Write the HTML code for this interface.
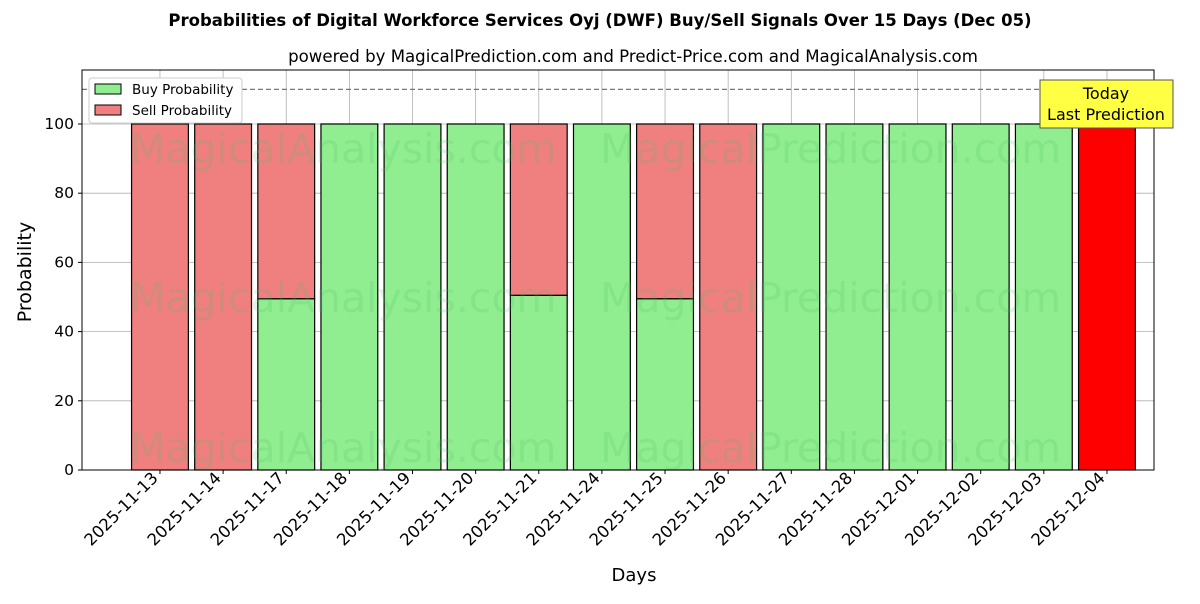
<!DOCTYPE html>
<html><head><meta charset="utf-8"><style>
body{margin:0;background:#fff;font-family:"DejaVu Sans","Liberation Sans",sans-serif;}
svg text{font-family:"DejaVu Sans","Liberation Sans",sans-serif;}
</style></head><body>
<svg id="chart" width="1200" height="600" xmlns="http://www.w3.org/2000/svg">
<text x="600" y="26" text-anchor="middle" font-size="16.5" font-weight="bold">Probabilities of Digital Workforce Services Oyj (DWF) Buy/Sell Signals Over 15 Days (Dec 05)</text>
<text x="633" y="62" text-anchor="middle" font-size="16.6">powered by MagicalPrediction.com and Predict-Price.com and MagicalAnalysis.com</text>
<g id="grid"></g>
<g id="bars"></g>
<g id="wm" fill="#4cc060" opacity="0.18" font-size="41">
<text x="130" y="163">MagicalAnalysis.com</text>
<text x="600" y="163">MagicalPrediction.com</text>
<text x="130" y="312">MagicalAnalysis.com</text>
<text x="600" y="312">MagicalPrediction.com</text>
<text x="130" y="462">MagicalAnalysis.com</text>
<text x="600" y="462">MagicalPrediction.com</text>
</g>
<line x1="82" x2="1154" y1="89.4" y2="89.4" stroke="#777" stroke-dasharray="5,3" stroke-width="1.2"/>
<rect x="82" y="70" width="1072" height="400" fill="none" stroke="#000" stroke-width="1"/>
<g id="axes"></g>
<g>
<rect x="89" y="78" width="153" height="45" fill="#fff" stroke="#ccc" rx="3"/>
<rect x="95" y="84" width="26" height="10" fill="#90ee90" stroke="#000"/>
<text x="132" y="94" font-size="13.5">Buy Probability</text>
<rect x="95" y="105" width="26" height="10" fill="#f08080" stroke="#000"/>
<text x="132" y="115" font-size="13.5">Sell Probability</text>
</g>
<g>
<rect x="1040" y="80" width="133" height="48" fill="#ffff44" stroke="#555"/>
<text x="1106" y="99" text-anchor="middle" font-size="16">Today</text>
<text x="1106" y="120" text-anchor="middle" font-size="16">Last Prediction</text>
</g>
<text x="634" y="581" text-anchor="middle" font-size="18">Days</text>
<text transform="translate(31,272) rotate(-90)" text-anchor="middle" font-size="19">Probability</text>
</svg>
<script>
const categories=["2025-11-13","2025-11-14","2025-11-17","2025-11-18","2025-11-19","2025-11-20","2025-11-21","2025-11-24","2025-11-25","2025-11-26","2025-11-27","2025-11-28","2025-12-01","2025-12-02","2025-12-03","2025-12-04"];
const buyValues=[0,0,49.5,100,100,100,50.5,100,49.5,0,100,100,100,100,100,0];
const sellValues=[100,100,50.5,0,0,0,49.5,0,50.5,100,0,0,0,0,0,100];
const yTicks=[0,20,40,60,80,100];
const NS="http://www.w3.org/2000/svg";
const L=82,R=1154,T=70,B=470;
const xmin=-1.235,xmax=15.745,ymin=0,ymax=115.6;
const xs=i=>L+(i-xmin)/(xmax-xmin)*(R-L);
const ys=v=>B-(v-ymin)/(ymax-ymin)*(B-T);
const bw=0.9*(R-L)/(xmax-xmin);
function mk(t,a,p){const e=document.createElementNS(NS,t);for(const k in a)e.setAttribute(k,a[k]);p.appendChild(e);return e;}
const grid=document.getElementById('grid'),bars=document.getElementById('bars'),axes=document.getElementById('axes');
yTicks.forEach(v=>{
 const g=mk('line',{x1:L,x2:R,y1:ys(v),y2:ys(v),stroke:'#b0b0b0','stroke-width':0.8},grid);
 
 
 mk('line',{x1:L-4,x2:L,y1:ys(v),y2:ys(v),stroke:'#000'},axes);
 const t=mk('text',{x:L-8,y:ys(v)+5,'text-anchor':'end','font-size':15.5},axes);t.textContent=v;
 
 
});
categories.forEach((c,i)=>{
 const x=xs(i);
 const g=mk('line',{x1:x,x2:x,y1:T,y2:B,stroke:'#b0b0b0','stroke-width':0.8},grid);
 
 
 const last=i===categories.length-1;
 if(buyValues[i]>0){const r=mk('rect',{x:x-bw/2,y:ys(buyValues[i]),width:bw,height:ys(0)-ys(buyValues[i]),fill:'#90ee90',stroke:'#000','stroke-width':1.2},bars);
  
  }
 if(sellValues[i]>0){const r=mk('rect',{x:x-bw/2,y:ys(buyValues[i]+sellValues[i]),width:bw,height:ys(buyValues[i])-ys(buyValues[i]+sellValues[i]),fill:last?'#ff0000':'#f08080',stroke:'#000','stroke-width':1.2},bars);
  
  }
 mk('line',{x1:x,x2:x,y1:B,y2:B+4,stroke:'#000'},axes);
 const t=mk('text',{x:0,y:0,'text-anchor':'end','font-size':16.5,transform:`translate(${x-1},${B+9}) rotate(-45)`},axes);t.textContent=c;
 
 
});
</script>
</body></html>
